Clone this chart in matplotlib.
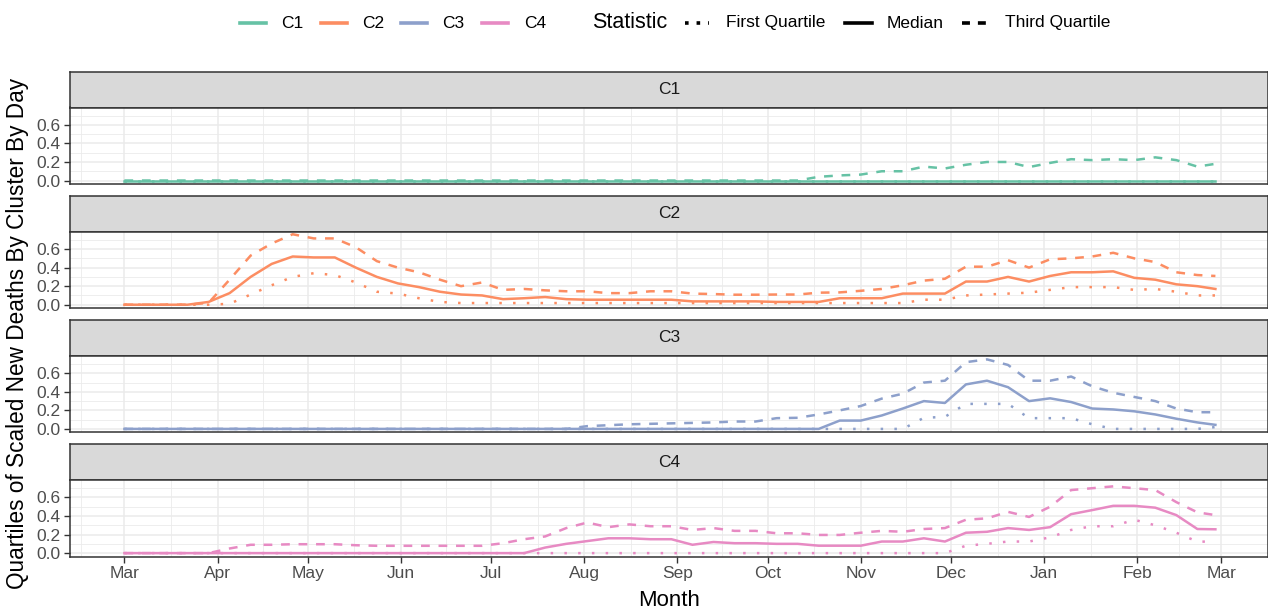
import matplotlib
matplotlib.use("Agg")
import matplotlib.pyplot as plt
import matplotlib.dates as mdates
from matplotlib.lines import Line2D
import pandas as pd

plt.rcParams["font.family"] = ["Liberation Sans", "DejaVu Sans"]

# weekly readings, first value 2020-03-01, last 2021-02-27
dates = list(pd.date_range("2020-03-01", "2021-02-21", freq="7D")) + [pd.Timestamp("2021-02-27")]

clusters = ["C1", "C2", "C3", "C4"]
colors = ["#66C2A5", "#FC8D62", "#8DA0CB", "#E78AC3"]
statistics = ["First Quartile", "Median", "Third Quartile"]

c1_q1 = [0, 0, 0, 0, 0, 0, 0, 0, 0, 0, 0, 0, 0, 0, 0, 0, 0, 0, 0, 0,
         0, 0, 0, 0, 0, 0, 0, 0, 0, 0, 0, 0, 0, 0, 0, 0, 0, 0, 0, 0,
         0, 0, 0, 0, 0, 0, 0, 0, 0, 0, 0, 0, 0]
c1_med = [0, 0, 0, 0, 0, 0, 0, 0, 0, 0, 0, 0, 0, 0, 0, 0, 0, 0, 0, 0,
          0, 0, 0, 0, 0, 0, 0, 0, 0, 0, 0, 0, 0, 0, 0, 0, 0, 0, 0, 0,
          0, 0, 0, 0, 0, 0, 0, 0, 0, 0, 0, 0, 0]
c1_q3 = [0, 0, 0, 0, 0, 0, 0, 0, 0, 0, 0, 0, 0, 0, 0, 0, 0, 0, 0, 0,
         0, 0, 0, 0, 0, 0, 0, 0, 0, 0, 0, 0, 0,
         0.04, 0.055, 0.064, 0.1, 0.1, 0.15, 0.13, 0.17, 0.2, 0.2,
         0.145, 0.19, 0.23, 0.22, 0.23, 0.22, 0.25, 0.22, 0.15, 0.18]

c2_q1 = [0, 0, 0, 0, 0, 0.01, 0.11, 0.21, 0.3, 0.34, 0.32, 0.24, 0.14, 0.12, 0.07, 0.03,
         0.018, 0.018, 0.018, 0.018, 0.018, 0.018, 0.018, 0.018, 0.018, 0.018, 0.018,
         0.018, 0.018, 0.018, 0.018, 0.018, 0.018, 0.018, 0.018, 0.018, 0.018, 0.018,
         0.054, 0.054, 0.1, 0.11, 0.12, 0.13, 0.16, 0.19, 0.19, 0.19, 0.16, 0.17, 0.14, 0.1, 0.1]
c2_med = [0, 0, 0, 0, 0.03, 0.125, 0.3, 0.44, 0.52, 0.51, 0.51, 0.4, 0.3, 0.23, 0.19, 0.14,
          0.11, 0.1, 0.06, 0.07, 0.083, 0.06, 0.054, 0.054, 0.054, 0.054, 0.054, 0.036,
          0.036, 0.036, 0.036, 0.03, 0.03, 0.03, 0.07, 0.07, 0.07, 0.12, 0.12, 0.12, 0.25,
          0.25, 0.3, 0.25, 0.31, 0.35, 0.35, 0.36, 0.29, 0.27, 0.22, 0.2, 0.17]
c2_q3 = [0, 0, 0, 0, 0.02, 0.27, 0.53, 0.66, 0.76, 0.715, 0.715, 0.62, 0.47, 0.4, 0.35, 0.27,
         0.2, 0.24, 0.16, 0.17, 0.155, 0.145, 0.145, 0.125, 0.125, 0.145, 0.145, 0.12,
         0.115, 0.108, 0.108, 0.11, 0.11, 0.13, 0.133, 0.15, 0.17, 0.21, 0.26, 0.28, 0.41,
         0.41, 0.48, 0.4, 0.49, 0.5, 0.52, 0.56, 0.5, 0.46, 0.35, 0.32, 0.31]

c3_q1 = [0, 0, 0, 0, 0, 0, 0, 0, 0, 0, 0, 0, 0, 0, 0, 0, 0, 0, 0, 0,
         0, 0, 0, 0, 0, 0, 0, 0, 0, 0, 0, 0, 0, 0, 0, 0, 0, 0,
         0.12, 0.13, 0.27, 0.27, 0.27, 0.116, 0.116, 0.116, 0.05, 0, 0, 0, 0, 0, 0.02]
c3_med = [0, 0, 0, 0, 0, 0, 0, 0, 0, 0, 0, 0, 0, 0, 0, 0, 0, 0, 0, 0,
          0, 0, 0, 0, 0, 0, 0, 0, 0, 0, 0, 0, 0, 0,
          0.09, 0.09, 0.145, 0.22, 0.3, 0.28, 0.48, 0.52, 0.45, 0.3, 0.33, 0.29,
          0.22, 0.21, 0.19, 0.156, 0.11, 0.07, 0.044]
c3_q3 = [0, 0, 0, 0, 0, 0, 0, 0, 0, 0, 0, 0, 0, 0, 0, 0, 0, 0, 0, 0, 0, 0,
         0.03, 0.04, 0.05, 0.055, 0.06, 0.065, 0.07, 0.08, 0.08, 0.116, 0.12, 0.156,
         0.2, 0.247, 0.327, 0.38, 0.5, 0.52, 0.72, 0.75, 0.69, 0.52, 0.52, 0.565,
         0.46, 0.39, 0.345, 0.3, 0.22, 0.18, 0.18]

c4_q1 = [0, 0, 0, 0, 0, 0, 0, 0, 0, 0, 0, 0, 0, 0, 0, 0, 0, 0, 0, 0,
         0, 0, 0, 0, 0, 0, 0, 0, 0, 0, 0, 0, 0, 0, 0, 0, 0, 0, 0, 0,
         0.08, 0.1, 0.125, 0.125, 0.17, 0.25, 0.29, 0.29, 0.36, 0.3, 0.22, 0.124, 0.124]
c4_med = [0, 0, 0, 0, 0, 0, 0, 0, 0, 0, 0, 0, 0, 0, 0, 0, 0, 0, 0, 0,
          0.06, 0.1, 0.13, 0.16, 0.16, 0.15, 0.15, 0.09, 0.12, 0.107, 0.107, 0.1, 0.1,
          0.08, 0.08, 0.08, 0.125, 0.125, 0.16, 0.125, 0.22, 0.23, 0.27, 0.25, 0.28,
          0.42, 0.464, 0.51, 0.51, 0.49, 0.41, 0.26, 0.257]
c4_q3 = [0, 0, 0, 0, 0,
         0.05, 0.09, 0.09, 0.096, 0.096, 0.096, 0.085, 0.079, 0.079, 0.079, 0.079,
         0.079, 0.079, 0.107, 0.15, 0.18, 0.27, 0.33, 0.28, 0.31, 0.29, 0.29, 0.25,
         0.27, 0.24, 0.24, 0.214, 0.214, 0.196, 0.196, 0.22, 0.24, 0.23, 0.26, 0.27,
         0.36, 0.375, 0.445, 0.39, 0.5, 0.68, 0.7, 0.72, 0.7, 0.68, 0.55, 0.44, 0.41]

series = {
    "C1": [c1_q1, c1_med, c1_q3],
    "C2": [c2_q1, c2_med, c2_q3],
    "C3": [c3_q1, c3_med, c3_q3],
    "C4": [c4_q1, c4_med, c4_q3],
}

styles = {
    "First Quartile": (0, (1, 4.5)),
    "Median": "-",
    "Third Quartile": (0, (3.5, 3.5)),
}

W, H = 1268, 610
fig = plt.figure(figsize=(W / 100, H / 100), dpi=100)


def box(left, top, width, height):
    return [left / W, 1 - (top + height) / H, width / W, height / H]


border = "#333333"
tick_text = "#4D4D4D"
start = pd.Timestamp("2020-03-01")
x_lo = start - pd.Timedelta(days=18.1)
x_hi = start + pd.Timedelta(days=380.3)
months = pd.date_range("2020-02-01", "2021-04-01", freq="MS")
minor = [months[i] + (months[i + 1] - months[i]) / 2 for i in range(len(months) - 1)]

for i, (name, color) in enumerate(zip(clusters, colors)):
    top = 71.5 + 124.2 * i
    strip = fig.add_axes(box(70, top, 1198, 36))
    strip.set_facecolor("#D9D9D9")
    strip.set_xticks([])
    strip.set_yticks([])
    for sp in strip.spines.values():
        sp.set_color(border)
        sp.set_linewidth(1.1)
    strip.text(0.5, 0.5, name, ha="center", va="center", size=12.5,
               color="#1A1A1A", transform=strip.transAxes)

    ax = fig.add_axes(box(70, top + 36, 1198, 76.5))
    for stat, values in zip(statistics, series[name]):
        ax.plot(dates, values, color=color, lw=1.8, linestyle=styles[stat])

    ax.set_xlim(x_lo, x_hi)
    ax.set_ylim(-0.0375, 0.7875)
    ax.set_yticks([0, 0.2, 0.4, 0.6])
    ax.set_yticks([0.1, 0.3, 0.5, 0.7], minor=True)
    ax.set_yticklabels(["0.0", "0.2", "0.4", "0.6"])
    ax.set_xticks(months[1:-1])
    ax.set_xticks(minor, minor=True)
    ax.xaxis.set_major_formatter(mdates.DateFormatter("%b"))
    ax.grid(which="major", color="#EBEBEB", lw=1.1)
    ax.grid(which="minor", color="#EBEBEB", lw=0.6)
    ax.set_axisbelow(True)
    for sp in ax.spines.values():
        sp.set_color(border)
        sp.set_linewidth(1.1)
    ax.tick_params(which="major", length=4.5, width=1.0, color=border,
                   labelsize=12.5, labelcolor=tick_text, pad=2)
    ax.tick_params(which="minor", length=0)
    if i < len(clusters) - 1:
        ax.tick_params(axis="x", which="both", bottom=False, labelbottom=False)

fig.text(669 / W, 1 - 600 / H, "Month", ha="center", va="center", size=16)
fig.text(18 / W, 1 - 333 / H, "Quartiles of Scaled New Deaths By Cluster By Day",
         ha="center", va="center", rotation=90, size=16.3)

# legend row
ly = 1 - 23 / H
for (x0, x1, tx), name, color in zip([(240, 266, 281), (321, 347, 362), (401, 427, 442), (482, 508, 524)],
                                     clusters, colors):
    fig.add_artist(Line2D([x0 / W, x1 / W], [ly, ly], color=color, lw=2.6, transform=fig.transFigure))
    fig.text(tx / W, ly, name, ha="left", va="center", size=12.5)
fig.text(592 / W, ly, "Statistic", ha="left", va="center", size=15.5)
key_styles = [(0, (1, 2.2)), "-", (0, (2.2, 2.2))]
for (x0, x1, tx), stat, ls in zip([(685, 709, 726), (845, 872, 887), (962, 988, 1005)],
                                  statistics, key_styles):
    fig.add_artist(Line2D([x0 / W, x1 / W], [ly, ly], color="black", lw=2.6,
                          linestyle=ls, transform=fig.transFigure))
    fig.text(tx / W, ly, stat, ha="left", va="center", size=12.5)

fig.savefig("out.png", dpi=100)
